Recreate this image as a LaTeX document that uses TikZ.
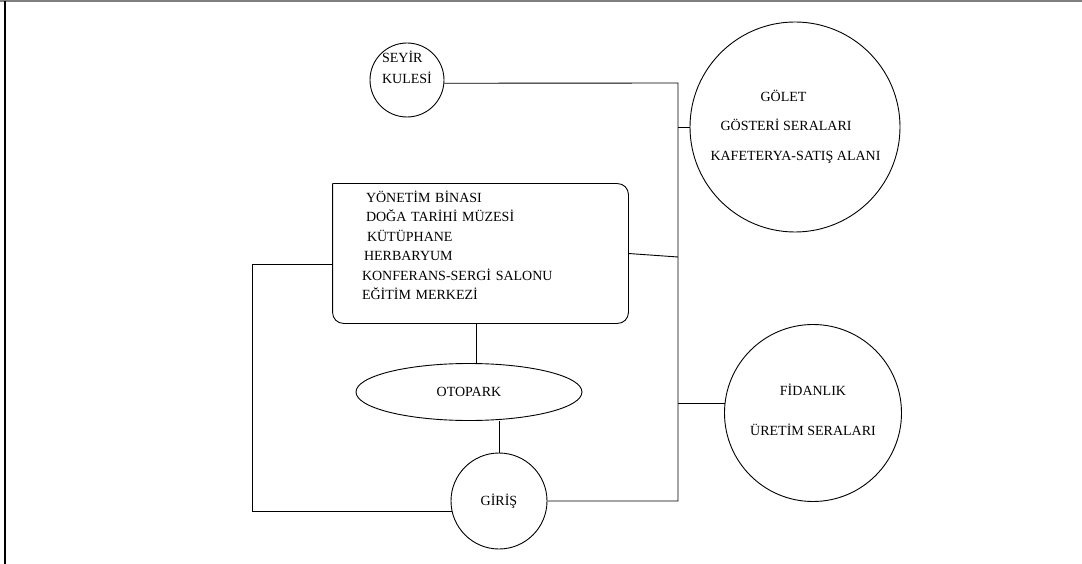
\documentclass[tikz,border=0pt]{standalone}
\usepackage{fontspec}
\setmainfont{Liberation Serif}
\usetikzlibrary{shapes.geometric}

\tikzset{
  yazi/.style={font=\fontsize{14pt}{19.4pt}\selectfont, inner sep=0pt},
  daire/.style={yazi, draw, circle},
}

\begin{document}
\begin{tikzpicture}[x=1pt,y=-1pt,line width=0.9pt]
\useasboundingbox (0,0) rectangle (1082,564);
% cerceve
\draw[gray,line width=1.5pt] (0,1) -- (1082,1);
\draw[line width=2pt] (5,1) -- (5,564);

% alanlar
\node[daire, minimum size=74pt] (seyir) at (407,80)
  {\makebox[0pt]{\raisebox{11pt}[\height][\depth]{\begin{tabular}{@{}l@{}}SEYİR\\[1pt]KULESİ\end{tabular}}}};
\node[daire, minimum size=210pt] (golet) at (795,127)
  {\makebox[0pt]{\hspace{1pt}\begin{tabular}{@{}l@{}}\hspace*{50pt}GÖLET\\[10pt]\hspace*{10pt}GÖSTERİ SERALARI\\[10pt]KAFETERYA-SATIŞ ALANI\end{tabular}}};
\node[daire, minimum size=177pt] (fidan) at (813,413)
  {\makebox[0pt]{\raisebox{1.5pt}[\height][\depth]{\begin{tabular}{@{}c@{}}FİDANLIK\\[20pt]ÜRETİM SERALARI\end{tabular}}}};
\node[yazi, minimum width=295pt, minimum height=139pt, text width=237pt, inner xsep=29pt, align=left] (bina) at (480.5,253.5)
  {\hspace*{4pt}YÖNETİM BİNASI\\
   \hspace*{4pt}DOĞA TARİHİ MÜZESİ\\
   \hspace*{5pt}KÜTÜPHANE\\
   \hspace*{2pt}HERBARYUM\\
   KONFERANS-SERGİ SALONU\\
   EĞİTİM MERKEZİ\\[-3pt]\mbox{}};
\draw (bina.north west) -- (bina.north) [rounded corners=11pt] -| (bina.south east) -| (bina.north west);
\node[yazi, draw, ellipse, minimum width=226pt, minimum height=57pt] (otopark) at (469,392) {OTOPARK};
\node[daire, minimum size=96pt] (giris) at (499,501) {GİRİŞ};

% baglantilar
\coordinate (ust) at (678,83);
\coordinate (alt) at (678,501);
\draw (seyir.-5) -- (ust) -- (alt) -- (giris.east);
\draw (golet.west) -- (golet.west -| ust);
\draw (fidan.174) -- (fidan.174 -| ust);
\draw (bina.east) -- (678,257);
\draw ([yshift=-11pt]bina.west) -- ++(-80,0) |- (giris.192);
\draw (bina.south -| 476,0) -- (otopark.north -| 476,0);
\draw (otopark.south -| giris.north) -- (giris.north);
\end{tikzpicture}
\end{document}
